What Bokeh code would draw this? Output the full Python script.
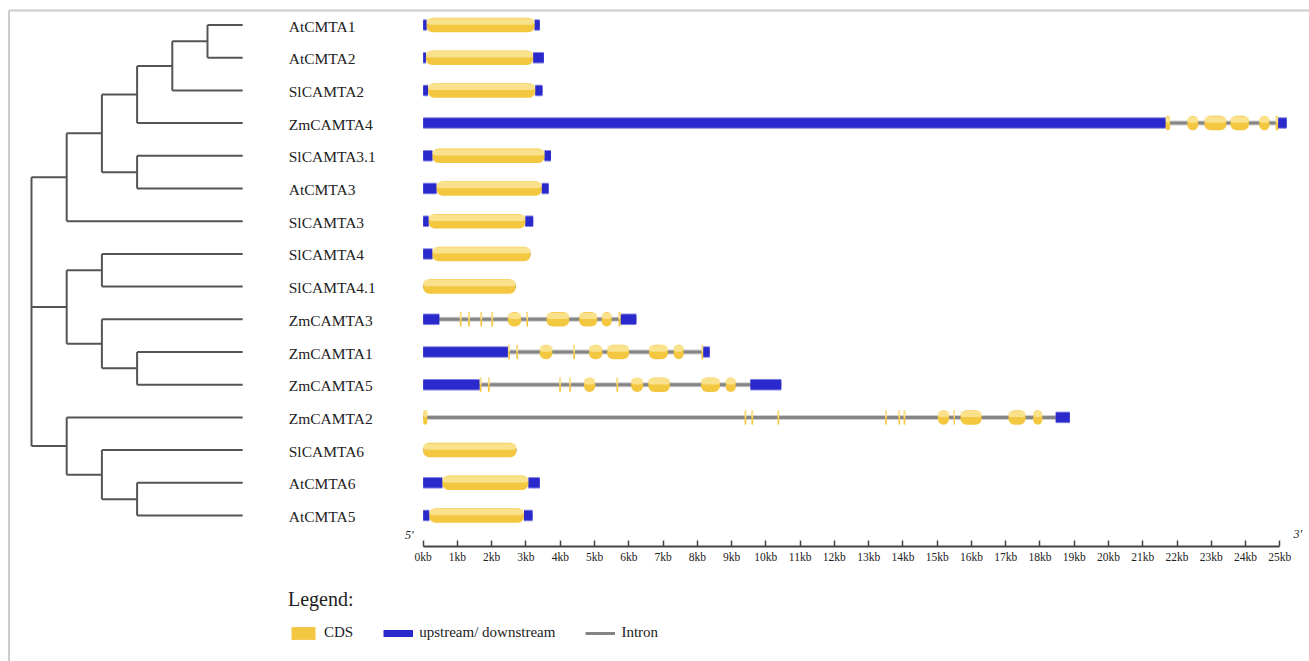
from bokeh.plotting import figure
from bokeh.models import Range1d, LinearAxis, FixedTicker, ColumnDataSource, Legend, LegendItem
from bokeh.embed import file_html
from bokeh.resources import INLINE
from bokeh.core.properties import value

# ---------------- data ----------------
genes = ["AtCMTA1", "AtCMTA2", "SlCAMTA2", "ZmCAMTA4", "SlCAMTA3.1", "AtCMTA3",
         "SlCAMTA3", "SlCAMTA4", "SlCAMTA4.1", "ZmCAMTA3", "ZmCAMTA1", "ZmCAMTA5",
         "ZmCAMTA2", "SlCAMTA6", "AtCMTA6", "AtCMTA5"]

# cladogram (nested groups of leaf names)
tree = (
    (((((("AtCMTA1", "AtCMTA2"), "SlCAMTA2"), "ZmCAMTA4"), ("SlCAMTA3.1", "AtCMTA3")), "SlCAMTA3")),
    (("SlCAMTA4", "SlCAMTA4.1"), ("ZmCAMTA3", ("ZmCAMTA1", "ZmCAMTA5"))),
    ("ZmCAMTA2", ("SlCAMTA6", ("AtCMTA6", "AtCMTA5"))),
)

# upstream / downstream regions (kb)
utr = {
    "AtCMTA1": [(0, 0.10), (3.25, 3.40)],
    "AtCMTA2": [(0, 0.08), (3.21, 3.52)],
    "SlCAMTA2": [(0, 0.14), (3.27, 3.48)],
    "ZmCAMTA4": [(0, 21.67), (24.95, 25.20)],
    "SlCAMTA3.1": [(0, 0.27), (3.54, 3.73)],
    "AtCMTA3": [(0, 0.39), (3.46, 3.66)],
    "SlCAMTA3": [(0, 0.16), (2.98, 3.21)],
    "SlCAMTA4": [(0, 0.27)],
    "SlCAMTA4.1": [],
    "ZmCAMTA3": [(0, 0.47), (5.76, 6.22)],
    "ZmCAMTA1": [(0, 2.47), (8.17, 8.36)],
    "ZmCAMTA5": [(0, 1.65), (9.55, 10.45)],
    "ZmCAMTA2": [(18.46, 18.87)],
    "SlCAMTA6": [],
    "AtCMTA6": [(0, 0.56), (3.07, 3.40)],
    "AtCMTA5": [(0, 0.18), (2.94, 3.19)],
}

# coding sequences (kb)
cds = {
    "AtCMTA1": [(0.10, 3.25)],
    "AtCMTA2": [(0.08, 3.21)],
    "SlCAMTA2": [(0.14, 3.27)],
    "ZmCAMTA4": [(21.67, 21.80), (22.30, 22.62), (22.80, 23.44), (23.56, 24.10), (24.40, 24.70), (24.88, 24.95)],
    "SlCAMTA3.1": [(0.27, 3.54)],
    "AtCMTA3": [(0.39, 3.46)],
    "SlCAMTA3": [(0.16, 2.98)],
    "SlCAMTA4": [(0.27, 3.13)],
    "SlCAMTA4.1": [(0, 2.70)],
    "ZmCAMTA3": [(1.07, 1.12), (1.31, 1.36), (1.67, 1.72), (1.99, 2.04), (2.47, 2.86), (3.01, 3.06),
                 (3.60, 4.26), (4.55, 5.08), (5.21, 5.50), (5.70, 5.76)],
    "ZmCAMTA1": [(2.48, 2.53), (2.72, 2.77), (3.40, 3.77), (4.38, 4.43), (4.84, 5.23), (5.37, 6.01),
                 (6.59, 7.14), (7.31, 7.60), (8.12, 8.17)],
    "ZmCAMTA5": [(1.65, 1.70), (1.89, 1.94), (3.97, 4.02), (4.26, 4.31), (4.69, 5.02), (5.64, 5.69),
                 (6.07, 6.42), (6.57, 7.20), (8.11, 8.66), (8.83, 9.12)],
    "ZmCAMTA2": [(0, 0.12), (9.38, 9.43), (9.58, 9.63), (10.34, 10.39), (13.48, 13.53), (13.87, 13.92),
                 (14.02, 14.07), (15.02, 15.35), (15.48, 15.52), (15.68, 16.30), (17.08, 17.58), (17.80, 18.07)],
    "SlCAMTA6": [(0, 2.72)],
    "AtCMTA6": [(0.56, 3.07)],
    "AtCMTA5": [(0.18, 2.94)],
}

kb_ticks = list(range(0, 26))
kb_tick_labels = [f"{t}kb" for t in kb_ticks]
end_labels = ["5'", "3'"]
legend_labels = ["CDS", "upstream/ downstream", "Intron"]

# ---------------- layout constants ----------------
W, H = 1309, 661
ROW0_PX, ROW_PX = 24.5, 32.7        # screen y of first row, row pitch
KB0_PX, KB_PX = 422.7, 34.264       # screen x of 0 kb, px per kb
TREE0_PX, LEVEL_PX = 31.0, 35.2     # screen x of root, px per tree level
LEAF_LEVEL = 6
AXIS_PX = 546.0

def row_of(py):
    return (py - ROW0_PX) / ROW_PX

def kb_of(px):
    return (px - KB0_PX) / KB_PX

YELLOW = "#f4c740"
YELLOW_HI = "#fce9a6"
BLUE = "#2a2acc"
GRAY = "#858585"
TEXT = "#222222"
FONT = "Liberation Serif"

p = figure(width=W, height=H, output_backend="svg", toolbar_location=None,
           x_range=Range1d(kb_of(0), kb_of(W)),
           y_range=Range1d(row_of(H), row_of(0)),
           x_axis_type=None, y_axis_type=None, min_border=0,
           outline_line_color=None, background_fill_color="white", border_fill_color="white")
p.extra_x_ranges = {"tree": Range1d(-TREE0_PX / LEVEL_PX, (W - TREE0_PX) / LEVEL_PX)}
p.grid.visible = False

# border (top and left)
p.segment(x0=[kb_of(8.5), kb_of(8.5)], y0=[row_of(10), row_of(10)],
          x1=[kb_of(W), kb_of(8.5)], y1=[row_of(10), row_of(H)],
          line_color="#cccccc", line_width=2)

# ---------------- tree ----------------
tx0, ty0, tx1, ty1 = [], [], [], []

def walk(node, depth):
    if isinstance(node, str):
        return LEAF_LEVEL, float(genes.index(node))
    kids = [walk(c, depth + 1) for c in node]
    ys = [k[1] for k in kids]
    tx0.append(depth); ty0.append(ys[0]); tx1.append(depth); ty1.append(ys[-1])
    for kx, ky in kids:
        tx0.append(depth); ty0.append(ky); tx1.append(kx); ty1.append(ky)
    return depth, (ys[0] + ys[-1]) / 2

walk(tree, 0)
p.segment(x0=tx0, y0=ty0, x1=tx1, y1=ty1, x_range_name="tree",
          line_color="#555555", line_width=2)

# gene labels
p.text(x=[LEAF_LEVEL] * len(genes), y=list(range(len(genes))), text=genes,
       x_range_name="tree", x_offset=46, y_offset=1,
       text_baseline="middle", text_align="left",
       text_font=value(FONT), text_font_size="15.5px", text_color=TEXT)

# ---------------- gene structures ----------------
iy, il, ir = [], [], []
uy, ul, ur = [], [], []
cy, cl, cr = [], [], []
for i, g in enumerate(genes):
    feats = utr[g] + cds[g]
    iy.append(i); il.append(min(f[0] for f in feats)); ir.append(max(f[1] for f in feats))
    for a, b in utr[g]:
        uy.append(i); ul.append(a); ur.append(b)
    for a, b in cds[g]:
        cy.append(i); cl.append(a); cr.append(b)

CDS_H = 14.5 / ROW_PX
UTR_H = 9.5 / ROW_PX

p.segment(x0=il, y0=iy, x1=ir, y1=iy, line_color="#cfcfcf", line_width=5)
intron_r = p.segment(x0=il, y0=iy, x1=ir, y1=iy, line_color=GRAY, line_width=3)
p.hbar(y=uy, left=ul, right=ur, height=UTR_H + 2 / ROW_PX, fill_color="#8080e0", line_color=None)
p.hbar(y=uy, left=ul, right=ur, height=UTR_H, fill_color=BLUE, line_color=None)
cds_r = p.hbar(y=cy, left=cl, right=cr, height=CDS_H, fill_color=YELLOW, line_color=None,
               border_radius=6)
p.hbar(y=[v - CDS_H * 0.24 for v in cy], left=cl, right=cr, height=CDS_H * 0.44,
       fill_color=YELLOW_HI, fill_alpha=0.75, line_color=None, border_radius=4)

# ---------------- axis ----------------
axis_row = row_of(AXIS_PX)
ax = LinearAxis(fixed_location=axis_row, ticker=FixedTicker(ticks=kb_ticks),
                bounds=(kb_ticks[0], kb_ticks[-1]),
                major_label_overrides={t: lab for t, lab in zip(kb_ticks, kb_tick_labels)},
                major_tick_in=6, major_tick_out=0, minor_tick_in=0, minor_tick_out=0,
                major_tick_line_color="#444444", major_tick_line_width=1.5,
                axis_line_color="#444444", axis_line_width=2,
                major_label_standoff=4, major_label_text_font=FONT,
                major_label_text_font_size="11.5px", major_label_text_color=TEXT)
p.add_layout(ax, "below")

ends = ColumnDataSource(dict(x=[kb_ticks[0], kb_ticks[-1]], y=[axis_row, axis_row],
                             text=end_labels, dx=[-14, 18], dy=[-12, -13]))
p.text(x="x", y="y", text="text", x_offset="dx", y_offset="dy", source=ends,
       text_align="center", text_baseline="middle", text_font=value(FONT),
       text_font_size="12px", text_font_style="italic", text_color=TEXT)

# ---------------- legend ----------------
utr_leg = p.line(x=[float("nan")], y=[float("nan")], line_color=BLUE, line_width=7)
legend = Legend(items=[LegendItem(label=legend_labels[0], renderers=[cds_r]),
                       LegendItem(label=legend_labels[1], renderers=[utr_leg]),
                       LegendItem(label=legend_labels[2], renderers=[intron_r])],
                location=(288, 20), orientation="horizontal",
                title="Legend:", title_text_font=FONT, title_text_font_size="20px",
                title_text_font_style="normal", title_text_color=TEXT, title_standoff=13,
                label_text_font=FONT, label_text_font_size="15px", label_text_color=TEXT,
                glyph_width=30, glyph_height=16, label_standoff=6, spacing=30,
                padding=0, margin=0, border_line_color=None, background_fill_alpha=0)
p.add_layout(legend, "center")

open("out.html", "w").write(file_html(p, INLINE))
